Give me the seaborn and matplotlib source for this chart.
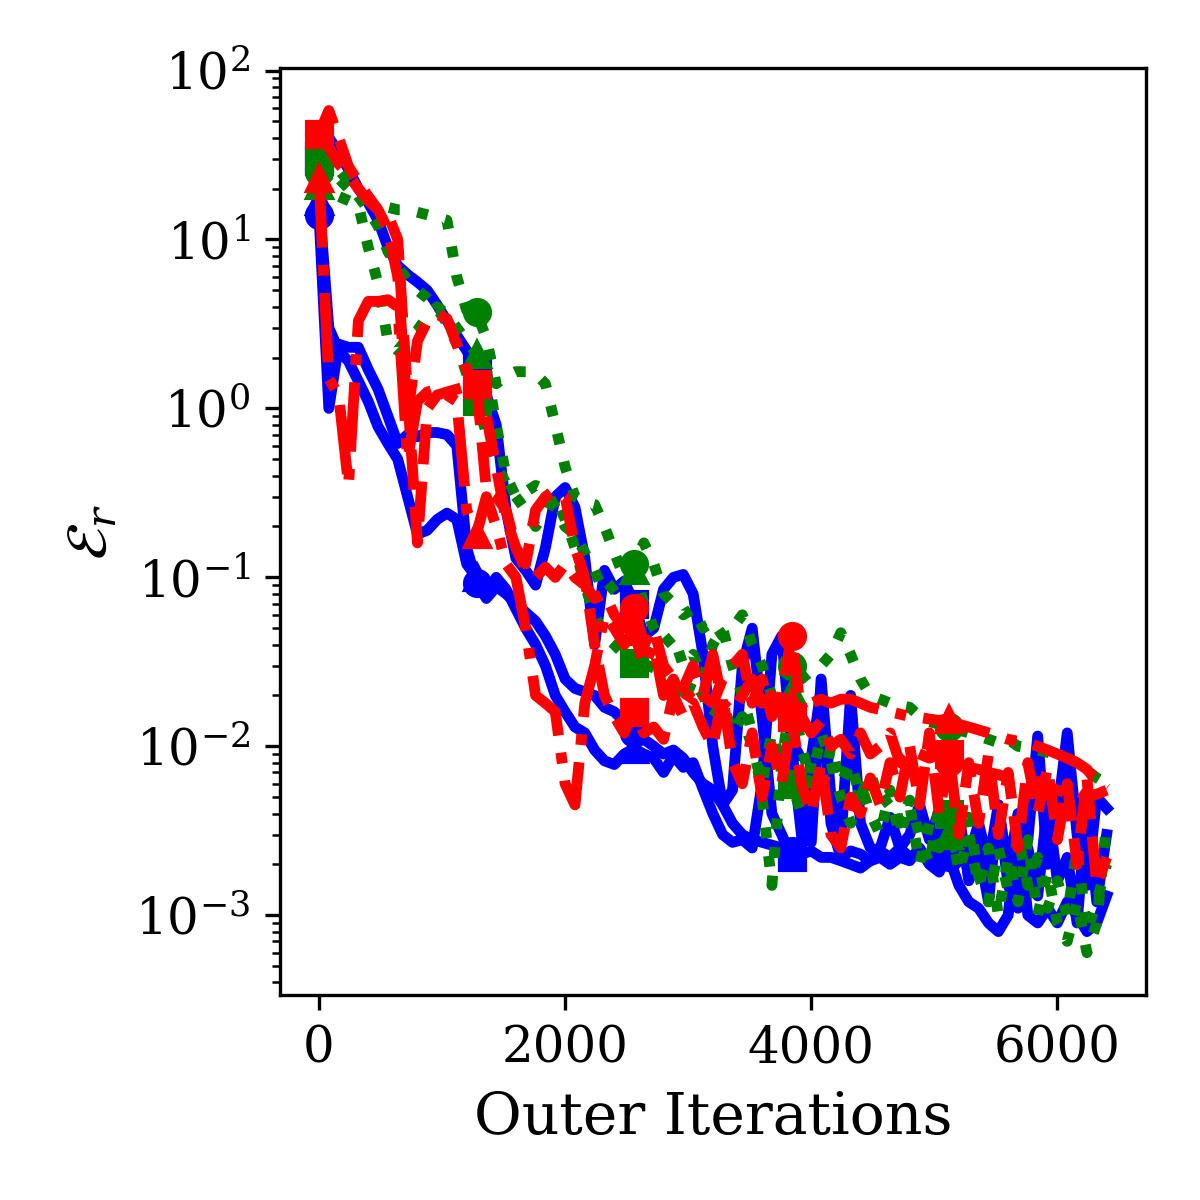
import numpy as np
import seaborn as sns
import matplotlib
matplotlib.use("Agg")
import matplotlib.pyplot as plt

# outer iterations, sampled every 80 steps
iters = list(range(0, 6401, 80))

blue_o = [14, 1.0, 2.4, 2.3, 2.3, 1.7, 1.3, 0.9, 0.62, 0.7,
          0.68, 0.72, 0.72, 0.7, 0.6, 0.15, 0.093, 0.075, 0.088, 0.08,
          0.07, 0.062, 0.055, 0.045, 0.035, 0.025, 0.022, 0.021, 0.02, 0.017,
          0.016, 0.014, 0.012, 0.011, 0.01, 0.009, 0.0095, 0.0085, 0.007, 0.006,
          0.0055, 0.0045, 0.0035, 0.003, 0.0028, 0.0027, 0.0026, 0.0025, 0.0024, 0.0023,
          0.0024, 0.0022, 0.0022, 0.0021, 0.002, 0.0019, 0.0021, 0.0025, 0.0038, 0.0025,
          0.0022, 0.0024, 0.0021, 0.003, 0.0022, 0.0015, 0.0012, 0.0011, 0.0009, 0.0008,
          0.001, 0.0035, 0.001, 0.0009, 0.0011, 0.0009, 0.0012, 0.001, 0.0008, 0.0009,
          0.0013]
blue_tri = [17, 3.0, 2.2, 1.9, 1.45, 1.1, 0.78, 0.62, 0.5, 0.3,
            0.18, 0.19, 0.22, 0.24, 0.22, 0.12, 0.1, 0.08, 0.1, 0.085,
            0.065, 0.05, 0.04, 0.03, 0.02, 0.016, 0.013, 0.012, 0.0095, 0.0082,
            0.0078, 0.009, 0.0097, 0.009, 0.0085, 0.007, 0.0088, 0.0075, 0.008, 0.0056,
            0.004, 0.003, 0.0027, 0.0028, 0.0025, 0.006, 0.035, 0.045, 0.01, 0.003,
            0.0027, 0.025, 0.005, 0.0027, 0.02, 0.0035, 0.0025, 0.0024, 0.0022, 0.0025,
            0.003, 0.0045, 0.0028, 0.0042, 0.0025, 0.0032, 0.0022, 0.0035, 0.002, 0.0045,
            0.0018, 0.004, 0.0028, 0.0115, 0.002, 0.004, 0.012, 0.003, 0.0015, 0.005,
            0.0043]
blue_sq = [29, 40, 33, 26, 20, 16.5, 13, 9, 7, 6.2,
           5.6, 5, 4.1, 3.3, 2.7, 2.2, 1.7, 1.2, 0.8, 0.25,
           0.13, 0.11, 0.09, 0.15, 0.3, 0.34, 0.26, 0.13, 0.04, 0.11,
           0.085, 0.095, 0.07, 0.045, 0.05, 0.085, 0.1, 0.104, 0.08, 0.035,
           0.01, 0.0045, 0.0055, 0.03, 0.05, 0.015, 0.004, 0.003, 0.0022, 0.0028,
           0.0085, 0.022, 0.0035, 0.0022, 0.0024, 0.0023, 0.0021, 0.0022, 0.002, 0.0022,
           0.0021, 0.0025, 0.002, 0.0018, 0.0025, 0.004, 0.0016, 0.0025, 0.0012, 0.0045,
           0.0015, 0.0011, 0.0025, 0.0013, 0.0045, 0.0016, 0.0022, 0.0009, 0.0045, 0.0012,
           0.003]

green_o = [25, 27, 23, 20, 18.5, 17, 16, 15.5, 15, 15,
           14.5, 14, 13.5, 13, 6, 3.8, 3.7, 2.6, 1.4, 1.55,
           1.65, 1.65, 1.6, 1.4, 0.8, 0.45, 0.3, 0.28, 0.27, 0.2,
           0.14, 0.1, 0.12, 0.16, 0.12, 0.08, 0.07, 0.06, 0.065, 0.05,
           0.055, 0.045, 0.05, 0.06, 0.04, 0.03, 0.02, 0.025, 0.03, 0.025,
           0.028, 0.03, 0.035, 0.047, 0.035, 0.025, 0.02, 0.019, 0.018, 0.0175,
           0.017, 0.015, 0.014, 0.0135, 0.013, 0.0125, 0.012, 0.0115, 0.011, 0.0105,
           0.011, 0.01, 0.0098, 0.0095, 0.0092, 0.009, 0.0085, 0.008, 0.0072, 0.0065,
           0.006]
green_tri = [21, 22, 18, 17, 16, 9, 5.5, 2.5, 2.2, 2.6,
             2.9, 3.5, 4.0, 3.6, 3.0, 2.5, 2.1, 1.7, 0.8, 0.4,
             0.3, 0.32, 0.35, 0.33, 0.26, 0.2, 0.18, 0.14, 0.11, 0.08,
             0.09, 0.1, 0.11, 0.07, 0.05, 0.04, 0.045, 0.03, 0.035, 0.025,
             0.04, 0.05, 0.03, 0.02, 0.012, 0.005, 0.0015, 0.008, 0.021, 0.01,
             0.006, 0.012, 0.008, 0.005, 0.0035, 0.006, 0.004, 0.003, 0.0055, 0.0035,
             0.0048, 0.003, 0.002, 0.0045, 0.003, 0.0022, 0.0038, 0.0017, 0.0012, 0.0025,
             0.0014, 0.003, 0.0015, 0.0022, 0.0011, 0.0016, 0.001, 0.0025, 0.0008, 0.0012,
             0.002]
green_sq = [31, 30, 26, 22, 18, 15, 12, 8.5, 6.8, 5.8,
            5.0, 4.5, 3.9, 3.2, 2.4, 1.6, 1.1, 0.72, 0.46, 0.36,
            0.3, 0.25, 0.2, 0.24, 0.3, 0.22, 0.15, 0.09, 0.06, 0.045,
            0.04, 0.035, 0.031, 0.025, 0.035, 0.028, 0.022, 0.018, 0.025, 0.02,
            0.015, 0.018, 0.012, 0.015, 0.01, 0.006, 0.012, 0.008, 0.006, 0.004,
            0.008, 0.005, 0.01, 0.006, 0.008, 0.005, 0.007, 0.0045, 0.005, 0.003,
            0.0045, 0.002, 0.0035, 0.0025, 0.004, 0.0018, 0.003, 0.0015, 0.0025, 0.001,
            0.0022, 0.0012, 0.0028, 0.001, 0.0018, 0.0009, 0.0007, 0.0012, 0.0006, 0.0009,
            0.0035]

red_o = [42, 58, 40, 27, 22, 18, 15, 11.5, 6, 0.9,
         2.5, 3.3, 3.6, 3.4, 2.4, 1.7, 1.4, 0.9, 0.45, 0.22,
         0.15, 0.11, 0.1, 0.115, 0.1, 0.12, 0.1, 0.09, 0.075, 0.08,
         0.06, 0.05, 0.066, 0.04, 0.05, 0.03, 0.025, 0.022, 0.03, 0.02,
         0.018, 0.025, 0.03, 0.035, 0.018, 0.025, 0.015, 0.02, 0.045, 0.015,
         0.012, 0.014, 0.01, 0.011, 0.009, 0.012, 0.009, 0.01, 0.012, 0.008,
         0.0095, 0.009, 0.0085, 0.009, 0.0081, 0.0078, 0.0075, 0.0073, 0.007, 0.0068,
         0.0065, 0.0064, 0.006, 0.0062, 0.0058, 0.0055, 0.0053, 0.0055, 0.005, 0.0052,
         0.0055]
red_tri = [23, 1.5, 1.2, 0.35, 3.3, 4.3, 4.3, 4.4, 4.0, 0.5,
           1.1, 1.25, 1.3, 1.2, 1.1, 0.25, 0.18, 0.3, 0.2, 0.12,
           0.1, 0.05, 0.02, 0.018, 0.016, 0.006, 0.0045, 0.018, 0.03, 0.06,
           0.05, 0.04, 0.048, 0.03, 0.04, 0.02, 0.025, 0.018, 0.022, 0.02,
           0.035, 0.018, 0.016, 0.02, 0.025, 0.018, 0.02, 0.017, 0.018, 0.017,
           0.018, 0.019, 0.018, 0.019, 0.019, 0.018, 0.017, 0.0165, 0.016, 0.0155,
           0.015, 0.0148, 0.0145, 0.0142, 0.0146, 0.0135, 0.013, 0.0125, 0.012, 0.0115,
           0.011, 0.0107, 0.0105, 0.01, 0.0095, 0.009, 0.0085, 0.008, 0.0073, 0.0062,
           0.0056]
red_sq = [42, 35, 28, 24, 20, 17, 15, 14, 10, 1.2,
          0.16, 1.0, 1.2, 1.25, 1.3, 1.35, 1.4, 0.33, 0.3, 0.25,
          0.15, 0.12, 0.25, 0.3, 0.33, 0.3, 0.15, 0.1, 0.04, 0.02,
          0.015, 0.012, 0.016, 0.012, 0.013, 0.011, 0.02, 0.015, 0.018, 0.013,
          0.01, 0.02, 0.008, 0.006, 0.012, 0.005, 0.01, 0.006, 0.015, 0.006,
          0.004, 0.008, 0.003, 0.0025, 0.005, 0.004, 0.0065, 0.0045, 0.008, 0.005,
          0.01, 0.0045, 0.012, 0.004, 0.009, 0.003, 0.008, 0.0035, 0.009, 0.003,
          0.007, 0.0025, 0.008, 0.004, 0.0075, 0.0028, 0.006, 0.002, 0.0065, 0.0015,
          0.0022]

plt.rcParams["font.family"] = ["DejaVu Serif"]
plt.rcParams["mathtext.fontset"] = "dejavuserif"

series = [
    (blue_o, "blue", "-", "o"), (blue_tri, "blue", "-", "^"), (blue_sq, "blue", "-", "s"),
    (green_o, "green", ":", "o"), (green_tri, "green", ":", "^"), (green_sq, "green", ":", "s"),
    (red_o, "red", "--", "o"), (red_tri, "red", "-.", "^"), (red_sq, "red", "--", "s"),
]

# a marker every 1280 iterations
mark_idx = [i for i, v in enumerate(iters) if v % 1280 == 0 and v < 6400]

fig = plt.figure(figsize=(4, 4), dpi=300)
ax = fig.add_axes([0.233, 0.171, 0.722, 0.772])

for vals, color, ls, mk in series:
    sns.lineplot(x=iters, y=vals, ax=ax, color=color, linestyle=ls, lw=2.6,
                 marker=mk, markersize=6, markevery=mark_idx,
                 markeredgecolor=color, markeredgewidth=1)

ax.set_yscale("log")
ax.set_xlabel("Outer Iterations", fontsize=14)
ax.set_ylabel(r"$\mathcal{E}_r$", fontsize=14)
ax.tick_params(labelsize=12)

fig.savefig("out.png", dpi=300)
